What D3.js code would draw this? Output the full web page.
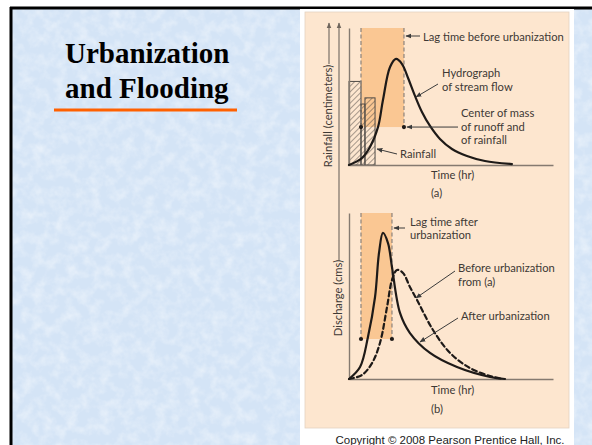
<!DOCTYPE html>
<html>
<head>
<meta charset="utf-8">
<script src="https://cdn.jsdelivr.net/npm/d3@7"></script>
<style>
  html, body { margin: 0; padding: 0; background: #fff; }
  svg { display: block; }
  .lbl { font-family: Lato, "Noto Sans", sans-serif; font-size: 11.2px; fill: #3e3935; }
</style>
</head>
<body>
<svg id="chart" width="592" height="445"></svg>
<script>
// ---- data -------------------------------------------------------------
const titleLines = ["Urbanization", "and Flooding"];

// rainfall hyetograph (hours, cm)
const rainStart = [0, 1.0, 1.33];
const rainEnd   = [1.0, 1.33, 2.17];
const rainDepth = [6.1, 4.45, 4.9];

// hydrograph of stream flow before urbanization, panel (a)
const hydroTime = [0, 1.08, 1.75, 2.42, 2.83, 3.42, 3.92, 4.42, 4.92, 5.5, 6.08, 6.75, 7.58, 8.58, 9.83, 11.33, 13.58];
const hydroFlow = [0, 0.51, 1.31, 2.77, 4.74, 7.15, 7.74, 7.37, 6.35, 5.04, 3.87, 2.85, 1.9, 1.17, 0.66, 0.29, 0.07];

// panel (b): after urbanization (solid)
const afterTime = [0, 0.92, 1.58, 2.17, 2.5, 2.83, 3.25, 3.58, 4.25, 5.08, 6.75, 9.0, 11.75, 13.0];
const afterFlow = [0, 0.72, 2.53, 4.94, 7.59, 8.8, 8.19, 6.75, 3.98, 2.77, 1.57, 0.72, 0.12, 0];

// panel (b): before urbanization, from (a) (dashed)
const beforeTime = [0, 1.08, 1.92, 2.58, 3.17, 3.58, 4.0, 4.5, 5.08, 5.67, 7.0, 8.42, 10.08, 11.75, 12.83];
const beforeFlow = [0, 0.24, 0.96, 2.17, 4.34, 5.96, 6.57, 6.39, 5.54, 4.76, 2.95, 1.57, 0.66, 0.18, 0];

// lag windows: [start, end] in hours and centre-of-mass level
const lagBefore = [1.0, 4.58];
const lagBeforeLevel = 2.77;
const lagAfter = [1.0, 3.58];
const lagAfterLevel = 2.41;

// ---- layout -----------------------------------------------------------
const svg = d3.select("#chart");
const W = 592, H = 445;
const defs = svg.append("defs");

// soft mottled texture for the slide background
const tex = defs.append("filter").attr("id", "mottle").attr("x", 0).attr("y", 0).attr("width", 1).attr("height", 1);
tex.append("feTurbulence").attr("type", "fractalNoise").attr("baseFrequency", 0.09)
  .attr("numOctaves", 3).attr("seed", 7).attr("result", "n");
tex.append("feColorMatrix").attr("in", "n").attr("type", "matrix")
  .attr("values", "0 0 0 0 1  0 0 0 0 1  0 0 0 0 1  1.6 0 0 0 -0.62")
  .attr("result", "w");
tex.append("feComposite").attr("in", "w").attr("in2", "SourceGraphic").attr("operator", "in");

svg.append("rect").attr("width", W).attr("height", H).attr("fill", "#ffffff");

// slide background with a dark frame on top/left
svg.append("rect").attr("x", 11).attr("y", 8).attr("width", W - 11).attr("height", H - 8)
  .attr("fill", "#d4e4f6");
svg.append("rect").attr("x", 11).attr("y", 8).attr("width", W - 11).attr("height", H - 8)
  .attr("fill", "#ffffff").attr("opacity", 0.55).attr("filter", "url(#mottle)");
svg.append("line").attr("x1", 10).attr("x2", W).attr("y1", 8).attr("y2", 8)
  .attr("stroke", "#000").attr("stroke-width", 3);
svg.append("line").attr("x1", 11).attr("x2", 11).attr("y1", 7).attr("y2", H)
  .attr("stroke", "#000").attr("stroke-width", 3);

// title
svg.selectAll("text.title").data(titleLines).join("text")
  .attr("class", "title")
  .attr("x", 65).attr("y", (d, i) => 63 + i * 35)
  .attr("font-family", "'Liberation Serif', 'Times New Roman', serif")
  .attr("font-weight", "bold").attr("font-size", 29).attr("fill", "#000")
  .text(d => d);
svg.append("line").attr("x1", 54).attr("x2", 237).attr("y1", 110).attr("y2", 110)
  .attr("stroke", "#ff6000").attr("stroke-width", 3);

// figure panel
svg.append("rect").attr("x", 300).attr("y", 9).attr("width", 274).attr("height", H - 9).attr("fill", "#ffffff");
svg.append("rect").attr("x", 305).attr("y", 12).attr("width", 264).attr("height", 416)
  .attr("fill", "#fde6cf").attr("stroke", "#e3d2c0").attr("stroke-width", 0.8);

svg.append("text").attr("x", 450).attr("y", 444).attr("text-anchor", "middle")
  .attr("font-family", "'Liberation Sans', Arial, sans-serif").attr("font-size", 11.5).attr("fill", "#222")
  .text("Copyright \u00A9 2008 Pearson Prentice Hall, Inc.");

// arrowheads and hatching
defs.append("marker").attr("id", "ah").attr("viewBox", "0 0 10 10")
  .attr("refX", 9).attr("refY", 5).attr("markerWidth", 6).attr("markerHeight", 6)
  .attr("markerUnits", "userSpaceOnUse").attr("orient", "auto")
  .append("path").attr("d", "M0,1 L10,5 L0,9 Z").attr("fill", "#3b3b3b");
defs.append("marker").attr("id", "ahAxis").attr("viewBox", "0 0 10 10")
  .attr("refX", 9).attr("refY", 5).attr("markerWidth", 6).attr("markerHeight", 6)
  .attr("markerUnits", "userSpaceOnUse").attr("orient", "auto")
  .append("path").attr("d", "M0,1 L10,5 L0,9 Z").attr("fill", "#6f655c");
const hatch = defs.append("pattern").attr("id", "hatch").attr("patternUnits", "userSpaceOnUse")
  .attr("width", 4).attr("height", 4).attr("patternTransform", "rotate(45)");
hatch.append("line").attr("x1", 0).attr("y1", 0).attr("x2", 0).attr("y2", 4)
  .attr("stroke", "#4f4a46").attr("stroke-width", 1);

// scales
const x = d3.scaleLinear().domain([0, 17]).range([349, 553]);
const yA = d3.scaleLinear().domain([0, 10]).range([165, 28]);
const yB = d3.scaleLinear().domain([0, 10]).range([379, 213]);

const axisCol = "#857a70";
const dashCol = "#958a80";

function drawPanel(y, lag, level, opts) {
  const g = svg.append("g");
  // lag-time shading
  g.append("rect").attr("x", x(lag[0])).attr("y", y(10))
    .attr("width", x(lag[1]) - x(lag[0])).attr("height", y(level) - y(10))
    .attr("fill", "#fac793");
  if (opts.rain) {
    g.selectAll("rect.rain").data(rainDepth).join("rect").attr("class", "rain")
      .attr("x", (d, i) => x(rainStart[i])).attr("y", d => y(d))
      .attr("width", (d, i) => x(rainEnd[i]) - x(rainStart[i]))
      .attr("height", d => y(0) - y(d))
      .attr("fill", "url(#hatch)").attr("stroke", "#4f4a46").attr("stroke-width", 1);
  }
  // dashed lag lines
  lag.forEach(t => {
    g.append("line").attr("x1", x(t)).attr("x2", x(t)).attr("y1", y(10)).attr("y2", y(level))
      .attr("stroke", dashCol).attr("stroke-width", 1.3).attr("stroke-dasharray", "4,2.5");
  });
  // axes
  g.append("g").attr("transform", `translate(0,${y(0)})`)
    .call(d3.axisBottom(x).ticks(0).tickSizeOuter(0))
    .call(s => s.select(".domain").attr("stroke", axisCol).attr("stroke-width", 1.4));
  g.append("g").attr("transform", `translate(${x(0)},0)`)
    .call(d3.axisLeft(y).ticks(0).tickSizeOuter(0))
    .call(s => s.select(".domain").attr("stroke", axisCol).attr("stroke-width", 1.4));
  // curves
  const line = d3.line().x(d => x(d[0])).y(d => y(d[1])).curve(d3.curveCatmullRom.alpha(0.5));
  opts.series.forEach(s => {
    g.append("path").datum(d3.zip(s.t, s.q)).attr("d", line)
      .attr("fill", "none").attr("stroke", "#1e1a18").attr("stroke-width", 2.2)
      .attr("stroke-linecap", "round")
      .attr("stroke-dasharray", s.dash || null);
  });
  // centre-of-mass dots
  lag.forEach(t => {
    g.append("circle").attr("cx", x(t)).attr("cy", y(level)).attr("r", 2.1).attr("fill", "#1e1a18");
  });
  return g;
}

drawPanel(yA, lagBefore, lagBeforeLevel, {
  rain: true,
  series: [{ t: hydroTime, q: hydroFlow }]
});
drawPanel(yB, lagAfter, lagAfterLevel, {
  rain: false,
  series: [{ t: beforeTime, q: beforeFlow, dash: "5,3.2" }, { t: afterTime, q: afterFlow }]
});

// outer axes: rainfall and discharge
svg.append("line").attr("x1", 329).attr("x2", 329).attr("y1", 64).attr("y2", 23)
  .attr("stroke", axisCol).attr("stroke-width", 1.3).attr("marker-end", "url(#ahAxis)");
svg.append("line").attr("x1", 339).attr("x2", 339).attr("y1", 260).attr("y2", 23)
  .attr("stroke", axisCol).attr("stroke-width", 1.3).attr("marker-end", "url(#ahAxis)");
svg.append("text").attr("class", "lbl").attr("transform", "translate(332,116) rotate(-90)")
  .attr("text-anchor", "middle").attr("font-size", 9.2).text("Rainfall (centimeters)");
svg.append("text").attr("class", "lbl").attr("transform", "translate(342,298) rotate(-90)")
  .attr("text-anchor", "middle").attr("font-size", 9.5).text("Discharge (cms)");

// annotations
function arrow(x1, y1, x2, y2) {
  svg.append("line").attr("x1", x1).attr("y1", y1).attr("x2", x2).attr("y2", y2)
    .attr("stroke", "#3b3b3b").attr("stroke-width", 1).attr("marker-end", "url(#ah)");
}
function label(lines, x0, y0, lh) {
  const t = svg.append("text").attr("class", "lbl");
  lines.forEach((s, i) => t.append("tspan").attr("x", x0).attr("y", y0 + i * (lh || 13.5)).text(s));
}

label(["Lag time before urbanization"], 423, 41);
arrow(420, 36, x(lagBefore[1]) + 2, 36);

label(["Hydrograph", "of stream flow"], 442, 77);
arrow(438, 84, 416, 97);

label(["Center of mass", "of runoff and", "of rainfall"], 461, 117);
arrow(458, yA(lagBeforeLevel), x(lagBefore[1]) + 3, yA(lagBeforeLevel));

label(["Rainfall"], 400, 158);
arrow(397, 154, 377, 149);

label(["Time (hr)"], 431, 179);
label(["(a)"], 431, 197);

label(["Lag time after", "urbanization"], 410, 226, 13);
arrow(405, 228, x(lagAfter[1]) + 2, 228);

label(["Before urbanization", "from (a)"], 458, 272);
arrow(455, 271, 416, 298);

label(["After urbanization"], 461, 320);
arrow(458, 318, 420, 342);

label(["Time (hr)"], 431, 394);
label(["(b)"], 431, 413);
</script>
</body>
</html>
